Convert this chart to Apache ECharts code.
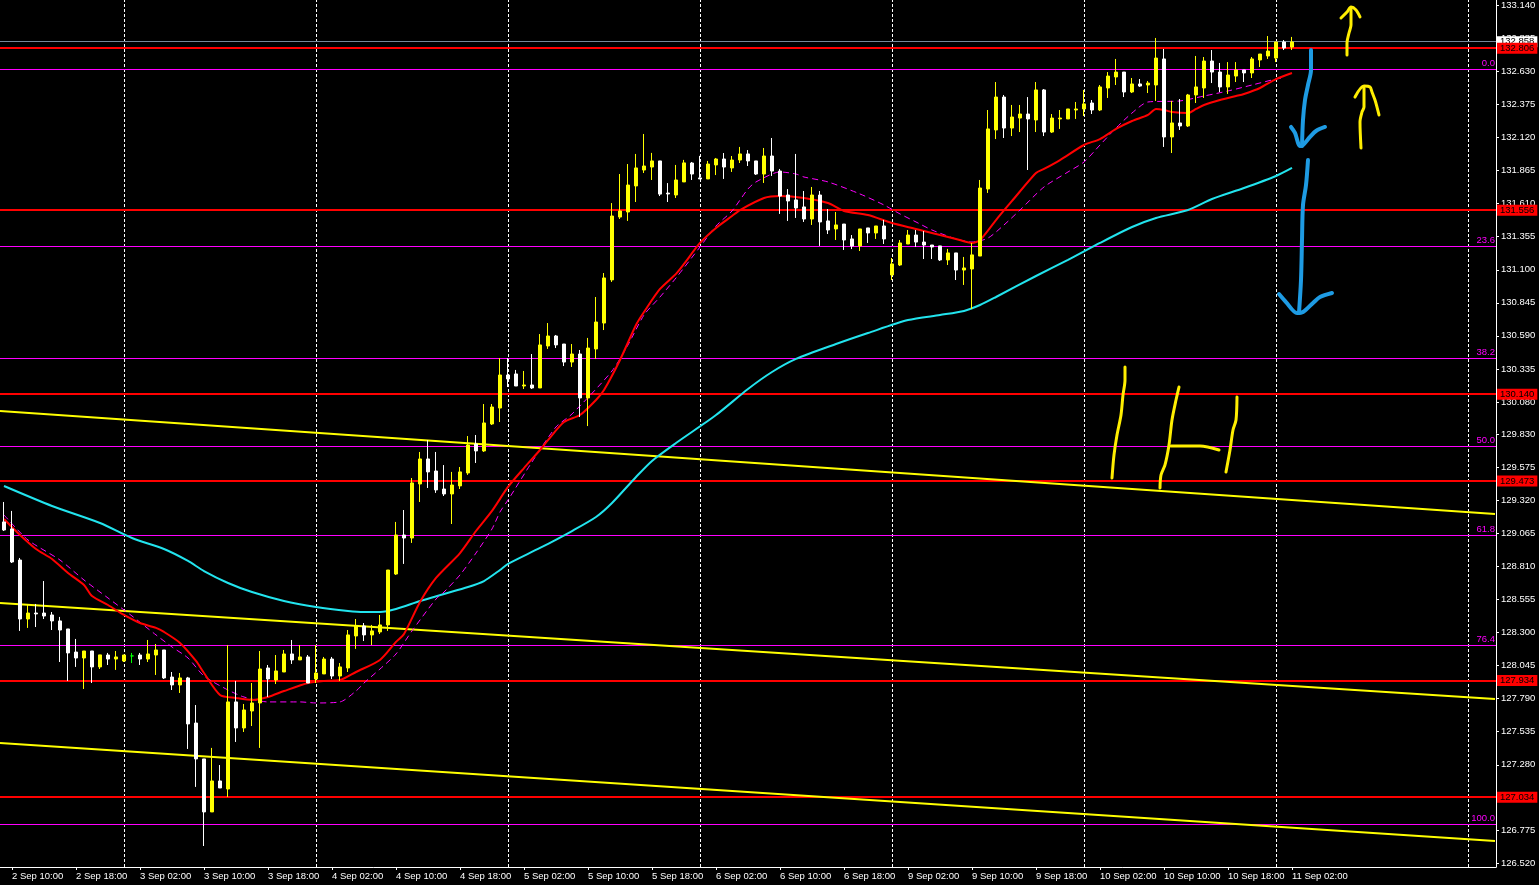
<!DOCTYPE html>
<html><head><meta charset="utf-8">
<script src="https://cdn.jsdelivr.net/npm/echarts@6.0.0/dist/echarts.min.js"></script>
<style>html,body{margin:0;padding:0;background:#000}#c{width:1539px;height:885px}</style>
</head><body><div id="c"></div>
<script>
// ---- H1 candles, bar 0 = 2 Sep 09:00 ... bar 161 = 11 Sep 02:00 ----
const open = [129.154,129.100,128.860,128.405,128.451,128.451,128.436,128.390,128.328,128.150,
128.104,128.158,128.035,128.127,128.096,128.081,128.120,128.127,128.096,128.127,
128.166,127.957,127.896,127.950,127.602,127.325,126.916,127.155,127.093,127.765,
127.564,127.695,127.757,128.027,127.934,127.996,128.135,128.089,128.112,127.942,
127.981,128.096,127.965,128.027,128.274,128.351,128.282,128.305,128.359,128.752,
129.053,129.030,129.447,129.640,129.547,129.408,129.370,129.432,129.532,129.756,
129.702,129.910,130.033,130.288,130.296,130.203,130.211,130.188,130.512,130.589,
130.527,130.388,130.450,130.111,130.489,130.689,131.022,131.507,131.546,131.747,
131.870,131.893,131.940,131.692,131.677,131.778,131.924,131.809,131.801,131.909,
131.955,131.886,131.947,131.994,131.940,131.839,131.978,131.862,131.677,131.639,
131.585,131.492,131.677,131.477,131.415,131.453,131.338,131.284,131.423,131.384,
131.438,131.060,131.137,131.299,131.368,131.314,131.291,131.284,131.176,131.230,
131.098,131.106,131.206,131.724,132.179,132.433,132.194,132.271,132.302,132.256,
132.488,132.163,132.264,132.264,132.333,132.341,132.387,132.333,132.503,132.588,
132.626,132.472,132.534,132.526,132.526,132.727,132.125,132.233,132.210,132.449,
132.503,132.711,132.626,132.511,132.595,132.642,132.619,132.719,132.750,132.734,
132.858,132.819];
const high = [129.308,129.239,128.876,128.513,128.521,128.698,128.459,128.421,128.328,128.251,
128.158,128.158,128.128,128.143,128.158,128.127,128.143,128.143,128.243,128.212,
128.166,127.996,127.988,127.958,127.741,127.325,127.410,127.278,128.204,127.927,
127.749,127.911,128.158,128.050,128.127,128.166,128.243,128.204,128.127,128.204,
128.112,128.112,128.065,128.320,128.405,128.374,128.359,128.436,128.783,129.154,
129.246,129.493,129.694,129.786,129.694,129.593,129.540,129.578,129.817,129.825,
130.064,130.064,130.419,130.419,130.327,130.319,130.450,130.604,130.689,130.597,
130.527,130.527,130.481,130.574,130.890,131.075,131.615,131.839,131.916,131.994,
132.148,132.002,131.940,131.769,131.909,131.948,131.932,131.979,131.940,131.963,
132.001,131.978,132.048,132.024,131.940,132.040,132.117,131.878,131.723,131.994,
131.708,131.739,131.708,131.569,131.546,131.453,131.368,131.415,131.423,131.438,
131.485,131.191,131.330,131.407,131.407,131.399,131.291,131.284,131.261,131.230,
131.199,131.307,131.793,132.333,132.549,132.449,132.372,132.372,132.433,132.549,
132.495,132.302,132.333,132.341,132.395,132.488,132.410,132.526,132.626,132.727,
132.626,132.580,132.572,132.557,132.889,132.804,132.403,132.418,132.457,132.750,
132.742,132.796,132.696,132.703,132.703,132.642,132.742,132.765,132.904,132.858,
132.873,132.897];
const low = [129.084,128.837,128.313,128.336,128.343,128.405,128.320,128.073,127.927,128.035,
127.865,127.911,128.019,128.050,128.012,128.073,128.065,128.050,128.073,127.973,
127.942,127.857,127.834,127.402,127.109,126.653,126.916,127.101,127.031,127.456,
127.533,127.579,127.410,127.803,127.903,127.996,128.058,128.089,127.911,127.911,
127.981,127.942,127.927,127.996,128.174,128.235,128.204,128.289,128.313,128.745,
128.830,128.992,129.308,129.416,129.378,129.354,129.138,129.408,129.517,129.609,
129.694,129.902,129.925,130.195,130.203,130.180,130.180,130.188,130.489,130.496,
130.357,130.350,129.964,129.894,130.412,130.635,131.006,131.492,131.477,131.623,
131.847,131.793,131.669,131.623,131.654,131.778,131.793,131.801,131.801,131.831,
131.801,131.855,131.924,131.901,131.832,131.770,131.824,131.531,131.477,131.500,
131.469,131.446,131.284,131.376,131.330,131.253,131.260,131.245,131.307,131.338,
131.299,131.021,131.129,131.299,131.276,131.183,131.183,131.168,131.137,131.021,
130.983,130.797,131.206,131.693,132.109,132.117,132.132,132.163,131.870,132.163,
132.132,132.156,132.187,132.264,132.264,132.287,132.302,132.325,132.426,132.526,
132.433,132.464,132.511,132.464,132.403,132.048,132.001,132.179,132.202,132.387,
132.426,132.541,132.472,132.457,132.549,132.549,132.580,132.665,132.727,132.703,
132.796,132.796];
const close = [129.092,128.845,128.405,128.451,128.444,128.428,128.390,128.320,128.143,128.104,
128.158,128.035,128.128,128.096,128.112,128.127,128.120,128.096,128.135,128.166,
127.950,127.896,127.950,127.595,127.325,126.916,127.155,127.101,127.765,127.564,
127.703,127.757,128.019,127.942,128.004,128.135,128.089,128.112,127.911,127.988,
128.096,127.965,128.035,128.282,128.351,128.282,128.313,128.359,128.783,129.053,
129.030,129.455,129.640,129.540,129.401,129.370,129.439,129.540,129.748,129.702,
129.918,130.041,130.288,130.257,130.203,130.211,130.188,130.520,130.589,130.520,
130.388,130.450,130.111,130.496,130.697,131.037,131.515,131.554,131.754,131.886,
131.901,131.940,131.684,131.685,131.793,131.925,131.839,131.801,131.916,131.955,
131.893,131.947,131.994,131.940,131.839,131.978,131.862,131.669,131.631,131.577,
131.492,131.677,131.469,131.407,131.446,131.330,131.284,131.415,131.384,131.438,
131.338,131.145,131.307,131.368,131.314,131.291,131.276,131.176,131.230,131.098,
131.114,131.215,131.731,132.187,132.433,132.194,132.279,132.302,132.264,132.488,
132.163,132.271,132.271,132.341,132.341,132.380,132.333,132.511,132.595,132.626,
132.472,132.534,132.518,132.541,132.734,132.125,132.233,132.210,132.449,132.511,
132.711,132.626,132.511,132.603,132.642,132.619,132.727,132.765,132.788,132.858,
132.812,132.858];

// ---- moving averages, [bar, price] ----
const redMA = [[0,129.177],[2,129.053],[4,128.945],[6,128.868],[8,128.760],[10,128.667],[11,128.583],[13,128.513],[15,128.436],[17,128.374],[19,128.336],[20,128.305],[22,128.220],[24,128.081],[25,127.988],[27,127.819],[29,127.796],[31,127.780],[33,127.803],[35,127.849],[38,127.911],[40,127.927],[42,127.934],[44,127.996],[47,128.089],[49,128.228],[50,128.289],[52,128.536],[54,128.722],[57,128.914],[59,129.084],[61,129.239],[63,129.424],[65,129.570],[67,129.709],[68,129.786],[70,129.925],[72,129.979],[74,130.095],[75,130.172],[77,130.404],[79,130.674],[80,130.774],[82,130.952],[84,131.068],[85,131.145],[87,131.307],[89,131.423],[91,131.515],[92,131.561],[95,131.654],[97,131.669],[100,131.654],[103,131.615],[105,131.554],[108,131.523],[111,131.461],[114,131.415],[117,131.368],[119,131.338],[121,131.307],[122,131.330],[124,131.484],[126,131.631],[129,131.847],[130,131.878],[132,131.947],[135,132.063],[137,132.109],[139,132.187],[141,132.248],[143,132.295],[144,132.341],[145,132.333],[146,132.318],[148,132.310],[149,132.341],[150,132.372],[152,132.410],[154,132.441],[155,132.457],[157,132.503],[159,132.572],[161,132.619]];
const magentaMA = [[0,129.208],[3,129.015],[7,128.860],[10,128.706],[13,128.567],[16,128.428],[19,128.282],[21,128.189],[23,128.104],[25,127.965],[28,127.857],[30,127.803],[33,127.765],[37,127.765],[39,127.757],[42,127.765],[44,127.849],[45,127.911],[47,128.019],[49,128.135],[51,128.313],[54,128.559],[55,128.613],[57,128.745],[59,128.914],[61,129.100],[62,129.231],[63,129.323],[66,129.617],[69,129.887],[71,129.987],[76,130.319],[78,130.520],[80,130.751],[82,130.890],[84,131.037],[87,131.276],[89,131.438],[91,131.554],[93,131.724],[94,131.778],[97,131.855],[99,131.839],[100,131.816],[103,131.778],[107,131.685],[110,131.600],[112,131.531],[114,131.469],[116,131.407],[119,131.338],[121,131.314],[123,131.345],[125,131.446],[127,131.561],[130,131.739],[133,131.855],[135,131.932],[137,132.063],[139,132.194],[141,132.310],[143,132.395],[147,132.403],[150,132.441],[153,132.480],[156,132.526],[159,132.572],[160,132.580]];
const cyanMA = [[0,129.431],[6,129.277],[12,129.146],[16,129.030],[20,128.945],[23,128.853],[25,128.775],[28,128.683],[31,128.613],[35,128.544],[39,128.498],[43,128.467],[45,128.459],[47,128.459],[49,128.482],[52,128.544],[55,128.598],[58,128.652],[60,128.698],[62,128.783],[63,128.830],[67,128.953],[71,129.084],[74,129.192],[76,129.300],[79,129.501],[81,129.625],[84,129.763],[89,129.979],[93,130.180],[96,130.311],[99,130.412],[104,130.527],[108,130.612],[113,130.712],[117,130.751],[120,130.782],[122,130.828],[124,130.890],[129,131.052],[133,131.176],[137,131.307],[141,131.430],[144,131.500],[148,131.561],[151,131.646],[155,131.731],[159,131.824],[161,131.886]];

// ---- axes text ----
const xTickLabels = ['2 Sep 10:00','2 Sep 18:00','3 Sep 02:00','3 Sep 10:00','3 Sep 18:00','4 Sep 02:00','4 Sep 10:00','4 Sep 18:00','5 Sep 02:00','5 Sep 10:00','5 Sep 18:00','6 Sep 02:00','6 Sep 10:00','6 Sep 18:00','9 Sep 02:00','9 Sep 10:00','9 Sep 18:00','10 Sep 02:00','10 Sep 10:00','10 Sep 18:00','11 Sep 02:00'];
const firstLabelBar = 1, barsPerLabel = 8, slotCount = 187;
const dayLines = [15,39,63,87,111,135,159,183];
const yTickLabels = ['126.520','126.775','127.030','127.280','127.535','127.790','128.045','128.300','128.555','128.810','129.065','129.320','129.575','129.830','130.080','130.335','130.590','130.845','131.100','131.355','131.610','131.865','132.120','132.375','132.630','132.885','133.140'];

// ---- drawn objects ----
const redLevels = [132.806,131.556,130.140,129.473,127.934,127.034];
const fibLevels = [132.650,131.275,130.424,129.737,129.049,128.198,126.823];
const fibNames = ['0.0','23.6','38.2','50.0','61.8','76.4','100.0'];
const bidPrice = 132.858;
const channelA = [[-0.5,130.010],[186.375,129.215]];
const channelB = [[-0.5,128.529],[186.375,127.788]];
const channelC = [[-0.5,127.448],[186.375,126.692]];

// hand-drawn strokes [bar, price]
const blueShaft1 = [[163.375,132.796],[163.375,132.642],[163.0,132.526],[162.625,132.410],[162.375,132.256],[162.25,132.055]];
const blueHead1 = [[160.875,132.202],[161.375,132.156],[162.0,132.055],[162.375,132.063],[163.25,132.125],[164.0,132.171],[165.125,132.202]];
const blueShaft2 = [[163.0,131.947],[162.75,131.754],[162.375,131.600],[162.25,131.330],[162.125,131.021],[161.875,130.767]];
const blueHead2 = [[159.375,130.913],[160.25,130.851],[161.625,130.767],[162.375,130.774],[163.625,130.844],[164.5,130.890],[166.0,130.921]];
const yelShaft1 = [[167.875,132.758],[167.875,132.850],[168.125,132.927],[168.375,132.989],[168.375,133.120]];
const yelHead1 = [[167.125,133.043],[167.875,133.089],[168.375,133.128],[169.0,133.105],[169.5,133.051]];
const yelShaft2 = [[169.625,132.040],[169.5,132.241],[169.75,132.318],[170.0,132.356],[170.0,132.503]];
const yelHead2 = [[168.875,132.433],[170.0,132.518],[170.75,132.511],[171.0,132.472],[171.375,132.410],[171.625,132.356],[171.875,132.295]];
const yelStrokeA = [[140.125,130.350],[140.125,130.249],[139.875,130.134],[139.625,129.979],[139.125,129.825],[138.75,129.671],[138.5,129.493]];
const yelStrokeB = [[146.875,130.195],[146.5,130.095],[146.0,129.941],[145.625,129.748],[145.125,129.594],[144.625,129.516],[144.5,129.416]];
const yelStrokeH = [[145.875,129.740],[149.5,129.740],[151.875,129.709]];
const yelStrokeC = [[154.125,130.118],[154.0,129.941],[153.625,129.864],[153.25,129.709],[152.75,129.540]];

// ---------------- build ----------------
const FONT = 'Liberation Sans';
const cats = Array.from({length: slotCount}, (_, i) => String(i));
const isLabelIdx = i => i >= firstLabelBar && (i - firstLabelBar) % barsPerLabel === 0 && (i - firstLabelBar) / barsPerLabel < xTickLabels.length;
const candleData = open.map((o, i) => {
  const v = [o, close[i], low[i], high[i]];
  if (o === close[i]) return {value: v, itemStyle: {color: '#00ff00', color0: '#00ff00', borderColor: '#00ff00', borderColor0: '#00ff00'}};
  return v;
});

function stroke(data, color, width) {
  return {type: 'line', xAxisIndex: 1, data: data, symbol: 'none', smooth: 0.3, z: 6, silent: true,
    lineStyle: {color: color, width: width, cap: 'round', join: 'round'}};
}
function maLine(data, color, width, type) {
  return {type: 'line', xAxisIndex: 1, data: data, symbol: 'none', smooth: 0.25, z: 3, silent: true,
    lineStyle: {color: color, width: width, type: type || 'solid'}};
}
const chan = (data, ml) => ({type: 'line', xAxisIndex: 1, data: data, symbol: 'none', z: 2, silent: true,
  lineStyle: {color: '#ffff00', width: 2}, markLine: ml});

const chart = echarts.init(document.getElementById('c'), null, {renderer: 'canvas'});
chart.setOption({
  backgroundColor: '#000000',
  animation: false,
  grid: {left: 0, top: 0, width: 1496, height: 867, containLabel: false},
  xAxis: [
    {type: 'category', data: cats, boundaryGap: true,
     axisLine: {show: true, onZero: false, lineStyle: {color: '#ffffff', width: 1}},
     axisTick: {show: true, alignWithLabel: true, length: 3, interval: i => isLabelIdx(i), lineStyle: {color: '#ffffff'}},
     axisLabel: {show: true, interval: i => isLabelIdx(i), formatter: (v, i) => isLabelIdx(i) ? xTickLabels[(i - firstLabelBar) / barsPerLabel] : '',
       color: '#ffffff', fontSize: 9.5, fontFamily: FONT, align: 'left', margin: 4},
     splitLine: {show: false}},
    {type: 'value', min: -0.5, max: 186.5, show: false, axisLine: {onZero: false}, splitLine: {show: false}}
  ],
  yAxis: {type: 'value', position: 'right', min: 126.491, max: 133.182,
    axisLine: {show: true, onZero: false, lineStyle: {color: '#ffffff', width: 1}},
    axisTick: {show: true, length: 3, customValues: yTickLabels.map(Number), lineStyle: {color: '#ffffff'}},
    axisLabel: {show: true, customValues: yTickLabels.map(Number), formatter: v => Number(v).toFixed(3),
      color: '#ffffff', fontSize: 9.5, fontFamily: FONT, margin: 5},
    splitLine: {show: false}},
  series: [
    chan(channelA, {silent: true, symbol: ['none', 'none'], z: 1, animation: false, label: {show: false},
      lineStyle: {color: '#ffffff', width: 1, type: [3, 2]},
      data: dayLines.map(d => ({xAxis: d}))}),
    chan(channelB, {silent: true, symbol: ['none', 'none'], z: 1, animation: false,
      lineStyle: {color: '#ff00ff', width: 1, type: 'solid'},
      label: {show: true, position: 'insideEndTop', color: '#ff00ff', fontSize: 9.5, fontFamily: FONT, distance: 1},
      data: fibLevels.map((v, i) => ({yAxis: v, label: {formatter: fibNames[i]}}))}),
    chan(channelC, {silent: true, symbol: ['none', 'none'], z: 1, animation: false,
      label: {show: true, position: 'end', distance: 1, color: '#000000', fontSize: 9.5, fontFamily: FONT, padding: [1, 3, 0, 3]},
      data: [{yAxis: bidPrice, lineStyle: {color: '#778899', width: 1, type: 'solid'},
              label: {formatter: bidPrice.toFixed(3), backgroundColor: '#ffffff'}}]
        .concat(redLevels.map(v => ({yAxis: v, lineStyle: {color: '#ff0000', width: 2, type: 'solid'},
              label: {formatter: v.toFixed(3), backgroundColor: '#ff0000'}})))}),
    maLine(cyanMA, '#22e4ee', 2),
    maLine(magentaMA, '#ff00ff', 1, [6, 4]),
    maLine(redMA, '#ff0000', 2),
    {type: 'candlestick', xAxisIndex: 0, data: candleData, barWidth: 4, z: 4, silent: true, clip: false,
     itemStyle: {color: '#ffff00', color0: '#ffffff', borderColor: '#ffff00', borderColor0: '#ffffff', borderWidth: 1}},
    stroke(blueShaft1, '#1e9be3', 4), stroke(blueHead1, '#1e9be3', 4),
    stroke(blueShaft2, '#1e9be3', 4), stroke(blueHead2, '#1e9be3', 4),
    stroke(yelShaft1, '#ffee00', 3), stroke(yelHead1, '#ffee00', 3),
    stroke(yelShaft2, '#ffee00', 3), stroke(yelHead2, '#ffee00', 3),
    stroke(yelStrokeA, '#ffee00', 3), stroke(yelStrokeB, '#ffee00', 3),
    stroke(yelStrokeH, '#ffee00', 3), stroke(yelStrokeC, '#ffee00', 3)
  ]
});
</script></body></html>
